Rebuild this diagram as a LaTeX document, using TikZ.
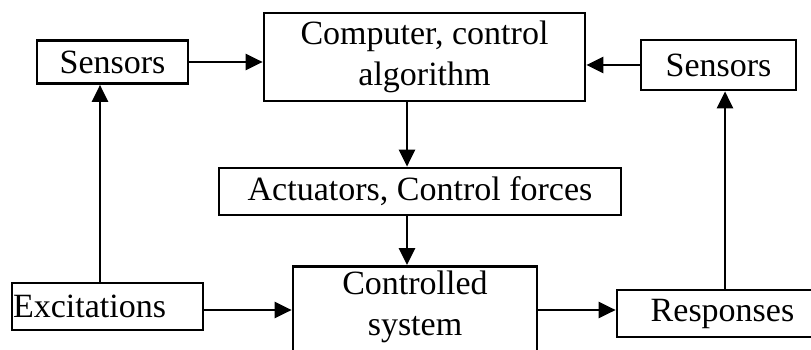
\documentclass[tikz,border=0pt]{standalone}
\usepackage{fontspec}
\setmainfont{Liberation Serif}
\usetikzlibrary{arrows.meta}
\begin{document}
\begin{tikzpicture}[x=1pt,y=-1pt,
  box/.style={draw,line width=2.7pt,rectangle,inner sep=0pt,font=\fontsize{34}{41}\selectfont},
  arr/.style={line width=2.7pt,-{Triangle[length=17pt,width=16pt]}},
  txt/.style={inner sep=0pt,align=center,font=\fontsize{34}{41}\selectfont}]
\useasboundingbox (0,0) rectangle (811,350);
\clip (0,0) rectangle (811,350);
\fill[white] (0,0) rectangle (811,350);
\node[box,minimum width=151pt,minimum height=43pt] (sensL) at (112.5,62) {Sensors};
\node[box,minimum width=155pt,minimum height=50pt] (sensR) at (718.5,65) {Sensors};
\node[box,minimum width=321pt,minimum height=88pt,align=center] (comp) at (424.5,57) {Computer, control\\algorithm};
\node[box,minimum width=402pt,minimum height=47pt] (act) at (420,191.5) {Actuators, Control forces};
\node[box,minimum width=191pt,minimum height=47pt,text width=189pt,inner xsep=1pt,align=left] (exc) at (107.5,306.5) {Excitations};
\node[box,minimum width=211pt,minimum height=47pt] (resp) at (722.5,313.5) {Responses};
\node[box,minimum width=244pt,minimum height=110pt,anchor=north] (ctrl) at (415,265) {};
\node[txt] (ctrlt) at (415,307) {Controlled\\system};
\coordinate (vl) at (100,0);
\coordinate (vr) at (725,0);
\coordinate (vc) at (407,0);
\coordinate (hy) at (0,310);
\draw[arr] (sensL.east) -- (sensL.east -| comp.west);
\draw[arr] (sensR.west) -- (sensR.west -| comp.east);
\draw[arr] (comp.south -| vc) -- (act.north -| vc);
\draw[arr] (act.south -| vc) -- (ctrl.north -| vc);
\draw[arr] (exc.east |- hy) -- (ctrl.west |- hy);
\draw[arr] (ctrl.east |- hy) -- (resp.west |- hy);
\draw[arr] (exc.north -| vl) -- (sensL.south -| vl);
\draw[arr] (resp.north -| vr) -- (sensR.south -| vr);
\end{tikzpicture}
\end{document}
